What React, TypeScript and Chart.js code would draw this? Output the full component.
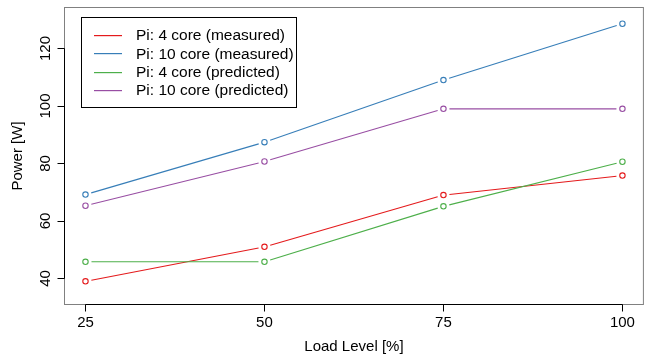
import React, { useEffect, useRef } from "react";
import { Chart, registerables } from "chart.js";

Chart.register(...registerables);

const loadLevels = [25, 50, 75, 100];
const pi4Measured = [39.0, 51.0, 69.0, 75.8];
const pi10Measured = [69.2, 87.4, 109.0, 128.6];
const pi4Predicted = [45.8, 45.8, 65.1, 80.6];
const pi10Predicted = [65.3, 80.7, 99.0, 99.0];

const seriesLabels = [
  "Pi: 4 core (measured)",
  "Pi: 10 core (measured)",
  "Pi: 4 core (predicted)",
  "Pi: 10 core (predicted)",
];
const seriesColors = ["#E41A1C", "#377EB8", "#4DAF4A", "#984EA3"];
const seriesValues = [pi4Measured, pi10Measured, pi4Predicted, pi10Predicted];

const xTicks = [25, 50, 75, 100];
const yTicks = [40, 60, 80, 100, 120];
const xTitle = "Load Level [%]";
const yTitle = "Power [W]";

const FONT_FAMILY = '"Liberation Sans", Arial, Helvetica, sans-serif';
const AXIS_FONT = `15px ${FONT_FAMILY}`;
const LEGEND_FONT = `15.5px ${FONT_FAMILY}`;

const rBasePlugin = {
  id: "rBase",
  afterDatasetsDraw(chart: any) {
    // lines with gaps around points (R type = "b")
    const ctx = chart.ctx;
    const gap = 6;
    ctx.save();
    chart.data.datasets.forEach((ds: any, i: number) => {
      const meta = chart.getDatasetMeta(i);
      const pts = meta.data;
      ctx.strokeStyle = ds.borderColor;
      ctx.lineWidth = 1.1;
      for (let k = 0; k < pts.length - 1; k++) {
        const a = pts[k];
        const b = pts[k + 1];
        const dx = b.x - a.x;
        const dy = b.y - a.y;
        const len = Math.sqrt(dx * dx + dy * dy);
        if (len <= 2 * gap) continue;
        const ux = dx / len;
        const uy = dy / len;
        ctx.beginPath();
        ctx.moveTo(a.x + ux * gap, a.y + uy * gap);
        ctx.lineTo(b.x - ux * gap, b.y - uy * gap);
        ctx.stroke();
      }
    });
    ctx.restore();
  },
  afterDraw(chart: any) {
    const ctx = chart.ctx;
    const { left, right, top, bottom } = chart.chartArea;
    const xs = chart.scales.x;
    const ys = chart.scales.y;
    ctx.save();
    // box
    ctx.strokeStyle = "#808080";
    ctx.lineWidth = 1;
    ctx.strokeRect(left + 0.5, top + 0.5, right - left - 1, bottom - top - 1);

    ctx.strokeStyle = "#000";
    ctx.fillStyle = "#000";
    // x axis
    const xb = bottom - 0.5;
    const x0 = Math.round(xs.getPixelForValue(xTicks[0])) + 0.5;
    const x1 = Math.round(xs.getPixelForValue(xTicks[xTicks.length - 1])) + 0.5;
    ctx.beginPath();
    ctx.moveTo(x0, xb);
    ctx.lineTo(x1, xb);
    xTicks.forEach((t) => {
      const px = Math.round(xs.getPixelForValue(t)) + 0.5;
      ctx.moveTo(px, xb);
      ctx.lineTo(px, xb + 7);
    });
    ctx.stroke();
    ctx.font = AXIS_FONT;
    ctx.textAlign = "center";
    ctx.textBaseline = "alphabetic";
    xTicks.forEach((t) => {
      const px = xs.getPixelForValue(t);
      ctx.fillText(String(t), px, bottom + 22);
    });
    ctx.fillText(xTitle, (left + right) / 2, bottom + 46);

    // y axis
    const yl = left + 0.5;
    const y0 = Math.round(ys.getPixelForValue(yTicks[0])) + 0.5;
    const y1 = Math.round(ys.getPixelForValue(yTicks[yTicks.length - 1])) + 0.5;
    ctx.beginPath();
    ctx.moveTo(yl, y0);
    ctx.lineTo(yl, y1);
    yTicks.forEach((t) => {
      const py = Math.round(ys.getPixelForValue(t)) + 0.5;
      ctx.moveTo(yl, py);
      ctx.lineTo(yl - 7, py);
    });
    ctx.stroke();
    yTicks.forEach((t) => {
      const py = ys.getPixelForValue(t);
      ctx.save();
      ctx.translate(left - 14, py);
      ctx.rotate(-Math.PI / 2);
      ctx.fillText(String(t), 0, 0);
      ctx.restore();
    });
    ctx.save();
    ctx.translate(left - 42, (top + bottom) / 2);
    ctx.rotate(-Math.PI / 2);
    ctx.fillText(yTitle, 0, 0);
    ctx.restore();

    // legend
    const lx = 81.5;
    const ly = 17.5;
    const lw = 215;
    const lh = 90;
    ctx.fillStyle = "#fff";
    ctx.fillRect(lx, ly, lw, lh);
    ctx.strokeStyle = "#000";
    ctx.lineWidth = 1;
    ctx.strokeRect(lx, ly, lw, lh);
    ctx.font = LEGEND_FONT;
    ctx.textAlign = "left";
    ctx.textBaseline = "middle";
    seriesLabels.forEach((lab, i) => {
      const ry = 35 + i * 18.3;
      ctx.fillStyle = seriesColors[i];
      ctx.fillRect(94, Math.round(ry), 28, 1.2);
      ctx.fillStyle = "#000";
      ctx.fillText(lab, 136, ry + 1);
    });
    ctx.restore();
  },
};

export default function App() {
  const canvasRef = useRef<HTMLCanvasElement | null>(null);

  useEffect(() => {
    if (!canvasRef.current) return;
    const datasets = seriesLabels.map((lab, i) => ({
      label: lab,
      data: loadLevels.map((x, k) => ({ x, y: seriesValues[i][k] })),
      borderColor: seriesColors[i],
      backgroundColor: "rgba(0,0,0,0)",
      pointBackgroundColor: "rgba(0,0,0,0)",
      pointBorderColor: seriesColors[i],
      pointBorderWidth: 1.1,
      pointRadius: 2.7,
      showLine: false,
    }));
    const chart = new Chart(canvasRef.current, {
      type: "line",
      data: { datasets },
      options: {
        animation: false,
        responsive: false,
        maintainAspectRatio: false,
        devicePixelRatio: 1,
        layout: { padding: { left: 64, right: 3, top: 7, bottom: 51 } },
        plugins: { legend: { display: false }, tooltip: { enabled: false } },
        scales: {
          x: { type: "linear", min: 22, max: 103, display: false },
          y: { type: "linear", min: 30.78, max: 134.43, display: false },
        },
      },
      plugins: [rBasePlugin],
    });
    return () => chart.destroy();
  }, []);

  return (
    <div style={{ position: "fixed", left: 0, top: 0, width: 649, height: 356, background: "#fff" }}>
      <canvas ref={canvasRef} width={649} height={356} style={{ width: 649, height: 356 }} />
    </div>
  );
}
